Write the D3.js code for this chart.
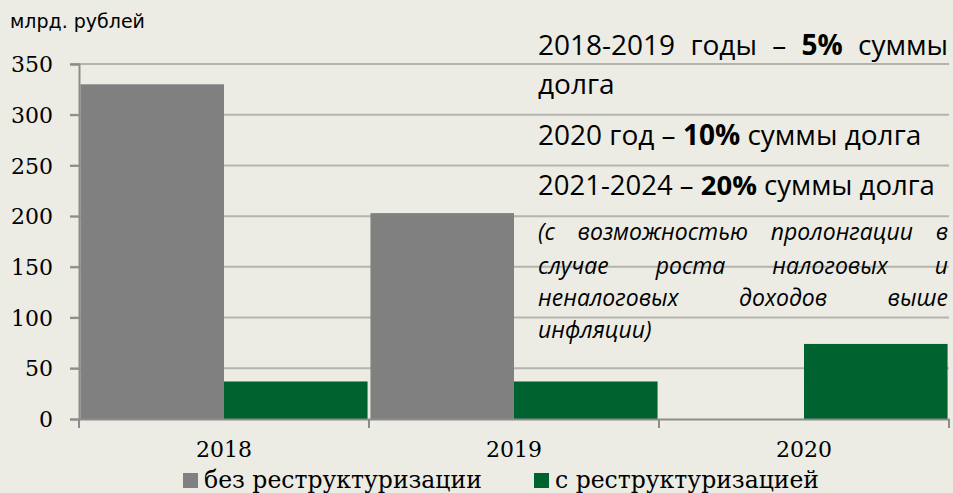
<!DOCTYPE html>
<html><head><meta charset="utf-8">
<script src="https://cdn.jsdelivr.net/npm/d3@7/dist/d3.min.js"></script>
<style>
html,body{margin:0;padding:0;background:#ECECE4;}
svg{display:block;}
</style></head>
<body>
<svg id="chart" width="953" height="493"></svg>
<script>
const categories = ["2018", "2019", "2020"];
const seriesNames = ["без реструктуризации", "с реструктуризацией"];
const withoutRestructuring = [330, 203, null];
const withRestructuring = [37, 37, 74];
const yTicks = [0, 50, 100, 150, 200, 250, 300, 350];
const seriesColors = ["#808080", "#00622F"];

const serif = "'DejaVu Serif', serif";
const svg = d3.select("#chart");
const W = 953, H = 493;
svg.append("rect").attr("width", W).attr("height", H).attr("fill", "#ECECE4");

const m = {left: 79, right: 4, top: 64, bottom: 74};
const x0 = d3.scaleBand().domain(categories).range([m.left, W - m.right]).paddingInner(0).paddingOuter(0);
const x1 = d3.scaleBand().domain([0, 1]).range([0, x0.bandwidth()]).paddingInner(0).paddingOuter(0.01);
const y = d3.scaleLinear().domain([0, 350]).range([H - m.bottom, m.top]);

// gridlines
svg.append("g").selectAll("line").data(yTicks.filter(d => d > 0)).join("line")
  .attr("x1", m.left - 9).attr("x2", W - m.right)
  .attr("y1", d => y(d)).attr("y2", d => y(d))
  .attr("stroke", "#B4B4AE").attr("stroke-width", 2);

// Y axis
const yAxis = d3.axisLeft(y).tickValues(yTicks).tickSize(9).tickPadding(17);
const gy = svg.append("g").attr("transform", `translate(${m.left},0)`).call(yAxis)
  .attr("font-family", serif).attr("font-size", 22);
gy.select(".domain").attr("stroke", "#8C8C8C").attr("stroke-width", 2);
gy.selectAll(".tick line").attr("stroke", "#8C8C8C").attr("stroke-width", 2);
gy.selectAll(".tick text").attr("fill", "#000").attr("font-family", serif).attr("font-size", 22).attr("dy", "0.35em");

// bars
const data = categories.map((c, i) => [withoutRestructuring[i], withRestructuring[i]]);
const groups = svg.append("g").selectAll("g").data(data).join("g")
  .attr("transform", (d, i) => `translate(${x0(categories[i])},0)`);
groups.selectAll("rect").data(d => d.map((v, j) => ({v, j})).filter(o => o.v != null)).join("rect")
  .attr("x", o => x1(o.j)).attr("width", x1.bandwidth())
  .attr("y", o => y(o.v)).attr("height", o => y(0) - y(o.v))
  .attr("fill", o => seriesColors[o.j]);

// X axis
const xAxis = d3.axisBottom(x0).tickSize(0).tickPadding(22);
const gx = svg.append("g").attr("transform", `translate(0,${y(0)})`).call(xAxis)
  .attr("font-family", serif).attr("font-size", 22);
gx.select(".domain").attr("stroke", "#8C8C8C").attr("stroke-width", 2);
gx.selectAll(".tick text").attr("fill", "#000").attr("font-family", serif).attr("font-size", 22);
// category boundary ticks
const bounds = categories.map(c => x0(c)).concat([x0(categories[categories.length-1]) + x0.bandwidth()]);
svg.append("g").selectAll("line").data(bounds).join("line")
  .attr("x1", d => d).attr("x2", d => d).attr("y1", y(0)).attr("y2", y(0) + 9)
  .attr("stroke", "#8C8C8C").attr("stroke-width", 2);

// unit label
svg.append("text").attr("x", 10).attr("y", 28).text("млрд. рублей")
  .attr("font-family", "'DejaVu Sans', sans-serif").attr("font-size", 19).attr("fill", "#000");

// legend
const legendX = [183, 534];
const leg = svg.append("g").selectAll("g").data(seriesNames).join("g")
  .attr("transform", (d, i) => `translate(${legendX[i]},473)`);
leg.append("rect").attr("width", 15).attr("height", 15).attr("fill", (d, i) => seriesColors[i]);
leg.append("text").attr("x", 21).attr("y", 15).text(d => d)
  .attr("font-family", serif).attr("font-size", 23.5).attr("fill", "#000");

// annotation text block (justified lines)
const textLeft = 538, textRight = 948;
const annot = [
  {y: 55, parts: [["2018-2019", false], ["годы", false], ["–", false], ["5%", true], ["суммы", false]], justify: true, italic: false, size: 28},
  {y: 94, parts: [["долга", false]], justify: false, italic: false, size: 28},
  {y: 145, parts: [["2020 год – ", false], ["10%", true], [" суммы долга", false]], justify: false, italic: false, size: 28},
  {y: 195, parts: [["2021-2024 – ", false], ["20%", true], [" суммы долга", false]], justify: false, italic: false, size: 27.5},
  {y: 240, parts: [["(с", false], ["возможностью", false], ["пролонгации", false], ["в", false]], justify: true, italic: true, size: 23},
  {y: 274, parts: [["случае", false], ["роста", false], ["налоговых", false], ["и", false]], justify: true, italic: true, size: 23},
  {y: 306, parts: [["неналоговых", false], ["доходов", false], ["выше", false]], justify: true, italic: true, size: 23},
  {y: 338, parts: [["инфляции)", false]], justify: false, italic: true, size: 23}
];
const ag = svg.append("g").attr("font-family", "'Open Sans', sans-serif").attr("fill", "#000");
annot.forEach(line => {
  if (line.justify) {
    const words = line.parts.map(p => ag.append("text").attr("y", line.y).text(p[0])
        .attr("font-size", line.size)
        .attr("font-style", line.italic ? "italic" : "normal")
        .attr("font-weight", p[1] ? "bold" : "normal"));
    const widths = words.map(t => t.node().getComputedTextLength());
    const total = d3.sum(widths);
    const gap = (textRight - textLeft - total) / (words.length - 1);
    let cx = textLeft;
    words.forEach((t, i) => { t.attr("x", cx); cx += widths[i] + gap; });
  } else {
    const t = ag.append("text").attr("x", textLeft).attr("y", line.y)
      .attr("font-size", line.size).attr("font-style", line.italic ? "italic" : "normal");
    line.parts.forEach(p => t.append("tspan").text(p[0]).attr("font-weight", p[1] ? "bold" : "normal"));
  }
});
</script>
</body></html>
